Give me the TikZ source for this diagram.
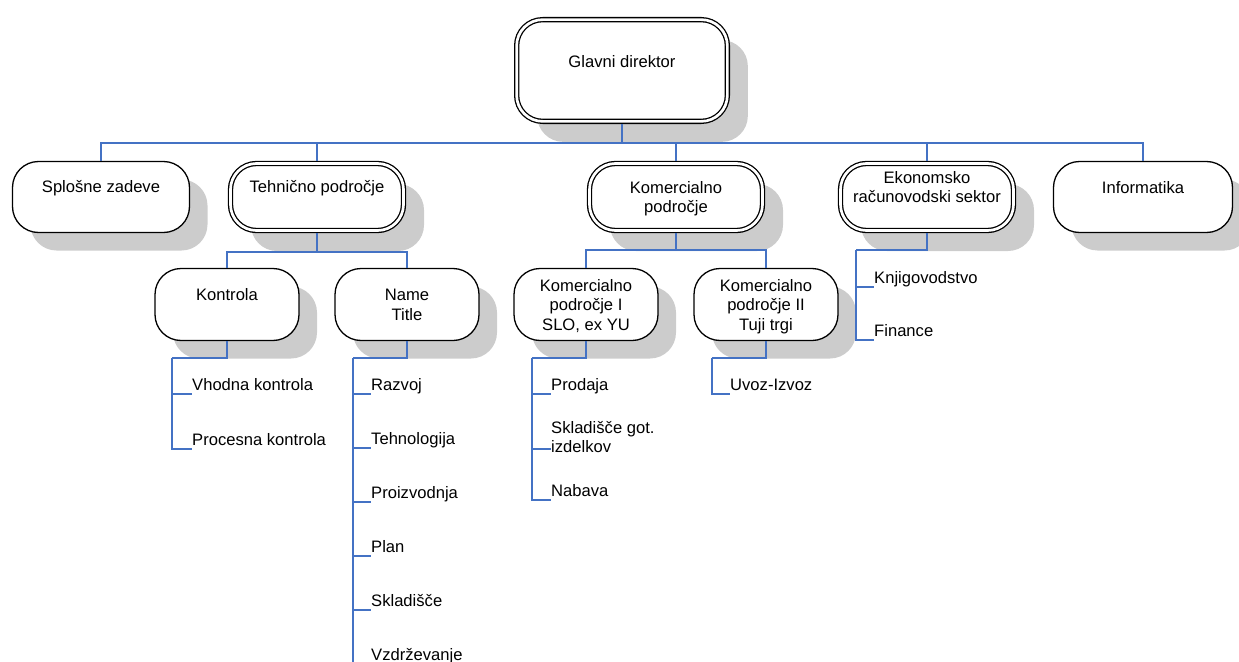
\documentclass[tikz,border=0pt]{standalone}
\usepackage{fontspec}
\setmainfont{Liberation Sans}
\usepackage{tikz}
\usetikzlibrary{shadows}
\definecolor{linkblue}{RGB}{68,114,196}
\definecolor{shadegray}{RGB}{204,204,204}

\begin{document}
\begin{tikzpicture}[x=1pt, y=-1pt,
    base/.style={rectangle, rounded corners=26pt, line width=1.3pt,
                 draw=black, fill=white, align=center, inner sep=0pt,
                 font=\fontsize{16.6}{19.5}\selectfont, text height=12pt},
    blk/.style={base, minimum width=177pt, minimum height=71pt,
                drop shadow={shadow xshift=18pt, shadow yshift=-18pt,
                             opacity=1, fill=shadegray}},
    dblk/.style={base, double, double distance=2.7pt, outer sep=2.65pt,
                 minimum width=173pt, minimum height=67pt,
                 drop shadow={shadow xshift=20.5pt, shadow yshift=-20.5pt,
                              opacity=1, fill=shadegray}},
    sblk/.style={blk, minimum width=144pt, minimum height=72pt},
    itm/.style={anchor=west, inner sep=0pt, align=left,
                font=\fontsize{16.6}{19.5}\selectfont,
                text height=12pt, text depth=0pt},
    lnk/.style={draw=linkblue, line width=1.4pt}]

    \path[clip, use as bounding box] (0,0) rectangle (1239,661);

    % Vodstvo
    \node[dblk, minimum width=210.7pt, minimum height=101.7pt,
          text depth=19pt] (dir) at (622,70.5) {Glavni direktor};

    % Sektorji
    \node[blk,  text depth=22pt] (splo) at (101,197)  {Splošne zadeve};
    \node[dblk, text depth=22pt] (teh)  at (317,197)  {Tehnično področje};
    \node[dblk, text height=31.5pt, text depth=0pt]
        (kom) at (676,197) {Komercialno\\področje};
    \node[dblk, text height=31.5pt, text depth=20pt]
        (eko) at (927,197) {Ekonomsko\\računovodski sektor};
    \node[blk,  text depth=20pt, minimum width=179pt]
        (inf) at (1143,197) {Informatika};

    % Oddelki
    \node[sblk, text depth=21pt] (kon) at (227,304.5) {Kontrola};
    \node[sblk, text height=31.5pt, text depth=0pt]
        (tit) at (407,304.5) {Name\\Title};
    \node[sblk, text height=51pt, text depth=0pt]
        (ki)  at (586,304.5) {Komercialno\\področje I\\SLO, ex YU};
    \node[sblk, text height=51pt, text depth=0pt]
        (kii) at (766,304.5) {Komercialno\\področje II\\Tuji trgi};

    % Enote
    \node[itm] (vho) at (192,384) {Vhodna kontrola};
    \node[itm] (pro) at (192,439) {Procesna kontrola};

    \node[itm] (raz) at (371,384) {Razvoj};
    \node[itm] (tgo) at (371,438) {Tehnologija};
    \node[itm] (pri) at (371,492) {Proizvodnja};
    \node[itm] (pla) at (371,546) {Plan};
    \node[itm] (skl) at (371,600) {Skladišče};
    \node[itm] (vzd) at (371,654) {Vzdrževanje};

    \node[itm] (prd) at (551,384) {Prodaja};
    \node[itm, text height=31.5pt] (sgi) at (551,437) {Skladišče got.\\izdelkov};
    \node[itm] (nab) at (551,490) {Nabava};

    \node[itm] (uvz) at (730,384) {Uvoz-Izvoz};

    \node[itm] (knj) at (874,277) {Knjigovodstvo};
    \node[itm] (fin) at (874,330) {Finance};

    % Povezave
    \coordinate (bus)  at (622,143);
    \coordinate (tbus) at (317,252);
    \coordinate (kbus) at (676,250);
    \coordinate (esp)  at (856,250);
    \coordinate (ksp)  at (172,358);
    \coordinate (tsp)  at (353,358);
    \coordinate (kisp) at (532,358);
    \coordinate (kiisp) at (712,358);

    \draw[lnk] (dir.south) -- (bus);
    \foreach \n in {splo,teh,kom,eko,inf}
        \draw[lnk] (bus) -| (\n.north);

    \draw[lnk] (teh.south) -- (tbus);
    \draw[lnk] (tbus) -| (kon.north);
    \draw[lnk] (tbus) -| (tit.north);

    \draw[lnk] (kom.south) -- (kbus);
    \draw[lnk] (kbus) -| (ki.north);
    \draw[lnk] (kbus) -| (kii.north);

    \draw[lnk] (eko.south) |- (esp);
    \foreach \n in {knj,fin}
        \draw[lnk] (esp) |- ([yshift=-10pt]\n.west);

    \draw[lnk] (kon.south) |- (ksp);
    \foreach \n in {vho,pro}
        \draw[lnk] (ksp) |- ([yshift=-10pt]\n.west);

    \draw[lnk] (tit.south) |- (tsp);
    \foreach \n in {raz,tgo,pri,pla,skl,vzd}
        \draw[lnk] (tsp) |- ([yshift=-10pt]\n.west);

    \draw[lnk] (ki.south) |- (kisp);
    \foreach \n in {prd,nab}
        \draw[lnk] (kisp) |- ([yshift=-10pt]\n.west);
    \draw[lnk] (kisp) |- ([yshift=-12pt]sgi.west);

    \draw[lnk] (kii.south) |- (kiisp);
    \draw[lnk] (kiisp) |- ([yshift=-10pt]uvz.west);

\end{tikzpicture}
\end{document}
